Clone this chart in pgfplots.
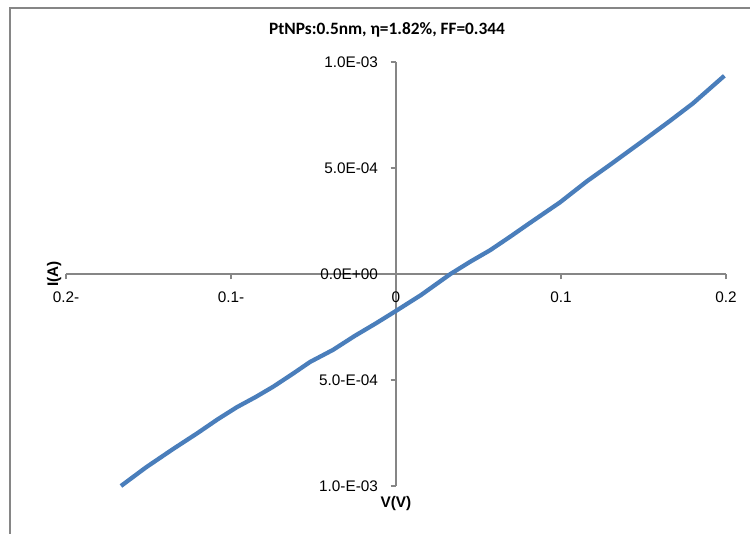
\documentclass[border=0pt]{standalone}
\usepackage{pgfplots}
\pgfplotsset{compat=1.18}
\usepackage{fontspec}
\setmainfont{Liberation Sans}
\newfontfamily\titlefont{Carlito}
\definecolor{axgray}{HTML}{868686}
\definecolor{curveblue}{HTML}{4A7EBB}
\begin{document}
\begin{tikzpicture}
\begin{axis}[
  scale only axis,
  width=495pt, height=318pt,
  xmin=-0.2, xmax=0.2, ymin=-0.001, ymax=0.001,
  axis lines=middle,
  axis line style={-, color=axgray, line width=1pt},
  hide obscured x ticks=false, hide obscured y ticks=false,
  xtick={-0.2,-0.1,0,0.1,0.2},
  xticklabels={0.2-,0.1-,0,0.1,0.2},
  ytick={-0.001,-0.0005,0,0.0005,0.001},
  yticklabels={1.0-E-03,5.0-E-04,0.0E+00,5.0E-04,1.0E-03},
  scaled y ticks=false, scaled x ticks=false,
  tick align=outside,
  major tick length=4pt,
  tick style={color=axgray, line width=1pt},
  xticklabel style={font=\fontsize{11.5}{13}\selectfont, yshift=-6pt},
  yticklabel style={font=\fontsize{11.5}{13}\selectfont, xshift=-6pt},
  xlabel={V(V)}, ylabel={I(A)},
  xlabel style={at={(rel axis cs:0.5,0)}, anchor=north, yshift=-4pt, font=\bfseries\fontsize{11.5}{13}\selectfont},
  ylabel style={at={(rel axis cs:0,0.5)}, rotate=90, anchor=south, yshift=0pt, font=\bfseries\fontsize{11.5}{13}\selectfont},
  clip=false,
]
\addplot[curveblue, line width=3.2pt, line join=round] coordinates {
(-0.1667,-0.00100)
(-0.1515,-0.000912)
(-0.1350,-0.000825)
(-0.1206,-0.000752)
(-0.1080,-0.000685)
(-0.0964,-0.000628)
(-0.0850,-0.000580)
(-0.0745,-0.000532)
(-0.0630,-0.000473)
(-0.0521,-0.000415)
(-0.0382,-0.000358)
(-0.0250,-0.000292)
(-0.0120,-0.000232)
(0.0000,-0.000174)
(0.0150,-0.000100)
(0.0330,0.000000)
(0.0450,0.000058)
(0.0570,0.000112)
(0.0690,0.000175)
(0.0810,0.000240)
(0.0994,0.000338)
(0.1158,0.000438)
(0.1297,0.000515)
(0.1500,0.000630)
(0.1660,0.000722)
(0.1800,0.000805)
(0.1990,0.000935)
};
\end{axis}
\node[font=\titlefont\bfseries\fontsize{13}{15}\selectfont] at (240.75pt,342pt) {PtNPs:0.5nm, η=1.82\%, FF=0.344};
\draw[axgray, line width=1pt] (-42pt,-40pt) -- (-42pt,358.5pt) -- (520pt,358.5pt);
\pgfresetboundingbox
\path[use as bounding box] (-49.5pt,-35.25pt) rectangle (513pt,364.5pt);
\end{tikzpicture}
\end{document}
